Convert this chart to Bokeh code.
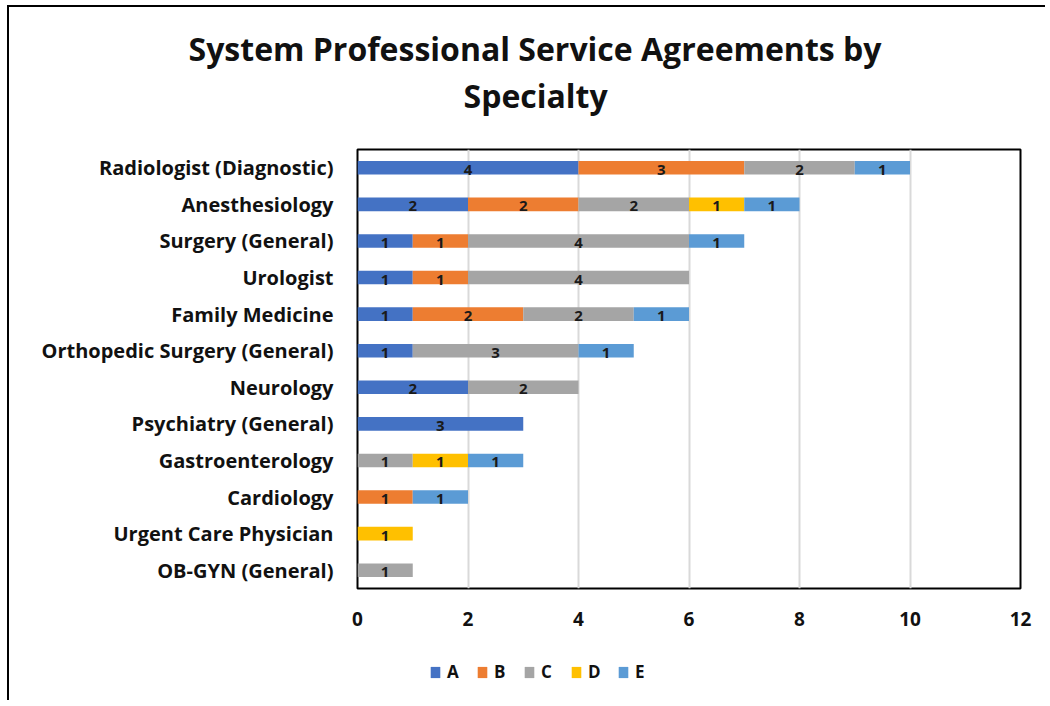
from bokeh.plotting import figure
from bokeh.models import ColumnDataSource, Legend, LegendItem, FactorRange, Title, Range1d
from bokeh.layouts import column
from bokeh.core.properties import value
from bokeh.embed import file_html
from bokeh.resources import INLINE

specialties = ["Radiologist (Diagnostic)", "Anesthesiology", "Surgery (General)", "Urologist",
               "Family Medicine", "Orthopedic Surgery (General)", "Neurology", "Psychiatry (General)",
               "Gastroenterology", "Cardiology", "Urgent Care Physician", "OB-GYN (General)"]
series = ["A", "B", "C", "D", "E"]
A = [4, 2, 1, 1, 1, 1, 2, 3, 0, 0, 0, 0]
B = [3, 2, 1, 1, 2, 0, 0, 0, 0, 1, 0, 0]
C = [2, 2, 4, 4, 2, 3, 2, 0, 1, 0, 0, 1]
D = [0, 1, 0, 0, 0, 0, 0, 0, 1, 0, 1, 0]
E = [1, 1, 1, 0, 1, 1, 0, 0, 1, 1, 0, 0]
colors = ["#4472C4", "#ED7D31", "#A5A5A5", "#FFC000", "#5B9BD5"]
x_ticks = [0, 2, 4, 6, 8, 10, 12]
title_lines = ["System Professional Service Agreements by", "Specialty"]

FONT = "Open Sans"
TXT = "#111111"

data = {"cat": specialties, "A": A, "B": B, "C": C, "D": D, "E": E}
src = ColumnDataSource(data)

p = figure(width=1036, height=633, output_backend="svg", toolbar_location=None,
           y_range=FactorRange(factors=specialties[::-1]), x_range=(0, 12),
           min_border_left=348, min_border_right=25, min_border_top=142, min_border_bottom=52)

t2 = Title(text=title_lines[1], align="left", offset=106, standoff=65,
           text_font=FONT, text_font_size="32px", text_font_style="bold", text_color=TXT)
t1 = Title(text=title_lines[0], align="left", offset=-169, standoff=-61,
           text_font=FONT, text_font_size="32px", text_font_style="bold", text_color=TXT)
p.add_layout(t2, "above")
p.add_layout(t1, "above")

renderers = p.hbar_stack(series, y="cat", height=0.37, color=colors, source=src, line_width=0)

# data labels
lx, ly, lt = [], [], []
for i, cat in enumerate(specialties):
    left = 0
    for s in series:
        v = data[s][i]
        if v:
            lx.append(left + v / 2)
            ly.append(cat)
            lt.append(str(v))
        left += v
p.text(x=lx, y=ly, text=lt, text_align="center", text_baseline="middle",
       text_font=value(FONT), text_font_size="15px", text_font_style="bold",
       text_color="#1a1a1a", y_offset=2)

p.xaxis.ticker = x_ticks
p.xaxis.axis_line_color = None
p.xaxis.major_tick_line_color = None
p.xaxis.minor_tick_line_color = None
p.xaxis.major_label_text_font = FONT
p.xaxis.major_label_text_font_size = "19px"
p.xaxis.major_label_text_font_style = "bold"
p.xaxis.major_label_text_color = TXT
p.xaxis.major_label_standoff = 17

p.yaxis.axis_line_color = None
p.yaxis.major_tick_line_color = None
p.yaxis.minor_tick_line_color = None
p.yaxis.major_label_text_font = FONT
p.yaxis.major_label_text_font_size = "20px"
p.yaxis.major_label_text_font_style = "bold"
p.yaxis.major_label_text_color = TXT
p.yaxis.major_label_standoff = 18

p.ygrid.grid_line_color = None
p.xgrid.grid_line_color = "#D9D9D9"
p.xgrid.grid_line_width = 2

p.outline_line_color = "black"
p.outline_line_width = 2
p.outline_line_alpha = 1

# legend strip below the chart: the stacked renderers here use a range that
# contains none of the categories, so only the legend swatches are shown
leg = figure(width=1036, height=60, output_backend="svg", toolbar_location=None,
             y_range=FactorRange(factors=["legend"]), x_range=Range1d(0, 12),
             x_axis_location=None, y_axis_location=None,
             min_border_left=0, min_border_right=0, min_border_top=0, min_border_bottom=0)
leg.grid.visible = False
leg.outline_line_color = None
leg_renderers = leg.hbar_stack(series, y="cat", height=0.37, color=colors, source=src, line_width=0)

legend = Legend(items=[LegendItem(label=s, renderers=[r]) for s, r in zip(series, leg_renderers)],
                orientation="horizontal", location=(72, 17))
legend.label_text_font = FONT
legend.label_text_font_size = "17px"
legend.label_text_font_style = "bold"
legend.label_text_color = TXT
legend.glyph_width = 12
legend.glyph_height = 14
legend.label_standoff = 6
legend.label_width = 16
legend.spacing = 13
legend.padding = 4
legend.margin = 0
legend.border_line_color = None
legend.background_fill_alpha = 0
leg.add_layout(legend, "center")

layout = column(p, leg, spacing=0)
layout.styles = {"border-left": "2px solid black", "border-top": "2px solid black",
                 "margin-left": "7px", "margin-top": "5px"}

open("out.html", "w").write(file_html(layout, INLINE))
